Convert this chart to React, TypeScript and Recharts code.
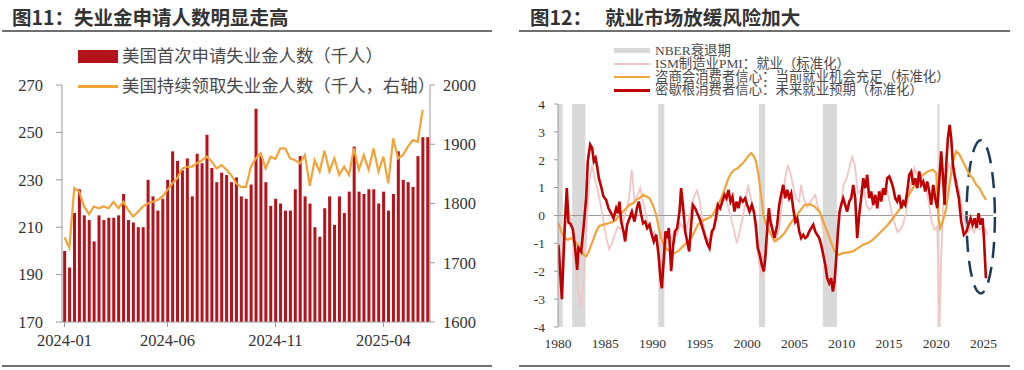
import React from 'react';
import { ComposedChart, Bar, Line, XAxis, YAxis, ReferenceArea, ReferenceLine } from 'recharts';

// ---------- 图11 ----------
const firstWeek = '2024-01-06';
const xTicksLeft = ['2024-01-06', '2024-06-01', '2024-11-02', '2025-04-05'];
const leftTicks = [170, 190, 210, 230, 250, 270];
const rightTicks = [1600, 1700, 1800, 1900, 2000];

// 美国首次申请失业金人数（千人）
const initialClaims = [
  200, 193, 216, 226, 215, 213, 204, 215, 213, 214, 214, 215, 224, 213, 212, 210, 210, 230, 223, 217,
  222, 230, 242, 238, 234, 239, 223, 241, 237, 249, 235, 229, 233, 232, 229, 231, 223, 222, 228, 260,
  240, 229, 219, 222, 220, 217, 217, 226, 240, 223, 220, 210, 206, 218, 223, 211, 223, 216, 225, 244,
  225, 224, 226, 226, 220, 225, 217, 224, 242, 230, 229, 227, 240, 248, 248,
];

// 美国持续领取失业金人数（千人，右轴）
const continuingClaims: (number | null)[] = [
  1743, 1725, 1826, 1820, 1795, 1782, 1795, 1792, 1795, 1792, 1803, 1792, 1803, 1789, 1778, 1786, 1795, 1800, 1803, 1806,
  1812, 1823, 1834, 1843, 1859, 1862, 1862, 1868, 1873, 1879, 1871, 1859, 1865, 1857, 1848, 1834, 1828, 1828, 1862, 1876,
  1885, 1859, 1879, 1875, 1893, 1893, 1876, 1873, 1868, 1882, 1830, 1873, 1854, 1889, 1854, 1876, 1848, 1862, 1848, 1893,
  1857, 1882, 1857, 1893, 1854, 1879, 1834, 1910, 1876, 1882, 1896, 1907, 1904, 1958, null,
];

const weekLabel = (i: number) => {
  const d = new Date(firstWeek + 'T00:00:00Z');
  d.setUTCDate(d.getUTCDate() + i * 7);
  return d.toISOString().slice(0, 10);
};

const claimsData = initialClaims.map((v, i) => ({
  week: weekLabel(i),
  initial: v,
  continuing: continuingClaims[i],
}));

// ---------- 图12 ----------
const yearTicks = [1980, 1985, 1990, 1995, 2000, 2005, 2010, 2015, 2020, 2025];
const stdTicks = [-4, -3, -2, -1, 0, 1, 2, 3, 4];

// NBER衰退期
const recessions: [number, number][] = [
  [1980.0, 1980.5], [1981.5, 1982.9], [1990.6, 1991.25], [2001.25, 2001.9], [2008.0, 2009.5], [2020.12, 2020.35],
];

// ISM制造业PMI：就业（标准化）
const ismEmployment: [number, number][] = [
  [1980.0, -1.0], [1980.3, -2.4], [1980.6, -0.8], [1980.9, 0.3], [1981.2, 0.1], [1981.5, -0.4], [1981.8, -1.5],
  [1982.1, -2.6], [1982.4, -3.3], [1982.7, -2.5], [1983.0, -0.6], [1983.3, 1.2], [1983.6, 1.8], [1983.9, 1.3],
  [1984.2, 0.9], [1984.5, 0.4], [1984.8, -0.2], [1985.1, -0.8], [1985.4, -1.2], [1985.7, -1.0], [1986.0, -0.7],
  [1986.3, -0.4], [1986.6, -0.5], [1986.9, -0.2], [1987.2, 0.2], [1987.5, 0.6], [1987.8, 1.64], [1988.1, 0.5],
  [1988.4, 0.7], [1988.7, 1.0], [1989.0, 0.5], [1989.3, 0.0], [1989.6, -0.4], [1989.9, -0.7], [1990.2, -0.6],
  [1990.5, -0.9], [1990.8, -1.6], [1991.1, -2.0], [1991.4, -1.2], [1991.7, -0.6], [1992.0, -0.9], [1992.3, -0.5],
  [1992.6, -0.7], [1992.9, -0.3], [1993.2, -0.4], [1993.5, -0.6], [1993.8, -0.2], [1994.1, 0.3], [1994.4, 0.7],
  [1994.7, 0.9], [1995.0, 0.5], [1995.3, -0.2], [1995.6, -0.7], [1995.9, -0.9], [1996.2, -0.8], [1996.5, -0.5],
  [1996.8, -0.1], [1997.1, 0.3], [1997.4, 0.5], [1997.7, 0.6], [1998.0, 0.3], [1998.3, -0.1], [1998.6, -0.5],
  [1998.9, -1.0], [1999.2, -0.6], [1999.5, -0.1], [1999.8, 0.4], [2000.1, 1.1], [2000.4, 0.6], [2000.7, 0.1],
  [2001.0, -1.0], [2001.3, -1.8], [2001.6, -2.2], [2001.9, -1.8], [2002.2, -0.6], [2002.5, -0.2], [2002.8, -0.8],
  [2003.1, -0.9], [2003.4, -0.4], [2003.7, 0.5], [2004.0, 1.3], [2004.3, 1.82], [2004.6, 1.5], [2004.9, 1.0],
  [2005.2, 0.6], [2005.5, 0.5], [2005.7, 1.1], [2006.0, 0.6], [2006.3, 0.3], [2006.6, 0.4], [2006.9, 0.6],
  [2007.2, 0.74], [2007.5, 0.3], [2007.8, 0.0], [2008.1, -0.6], [2008.4, -1.2], [2008.7, -2.0], [2009.0, -2.7],
  [2009.3, -2.2], [2009.6, -0.8], [2009.9, 0.3], [2010.2, 1.1], [2010.5, 1.3], [2010.8, 1.7], [2011.1, 2.1],
  [2011.4, 1.8], [2011.7, 0.8], [2012.0, 0.9], [2012.3, 1.1], [2012.6, 0.4], [2012.9, 0.2], [2013.2, 0.3],
  [2013.5, 0.5], [2013.8, 0.7], [2014.1, 0.9], [2014.4, 0.8], [2014.7, 1.0], [2015.0, 0.6], [2015.3, 0.1],
  [2015.6, -0.3], [2015.9, -0.6], [2016.2, -0.5], [2016.5, -0.3], [2016.8, 0.1], [2017.1, 0.8], [2017.4, 1.2],
  [2017.7, 1.7], [2018.0, 1.4], [2018.3, 1.5], [2018.6, 1.2], [2018.9, 1.0], [2019.2, 0.5], [2019.5, -0.2],
  [2019.8, -0.5], [2020.1, -0.4], [2020.25, -2.5], [2020.35, -4.0], [2020.5, -1.8], [2020.7, 0.2], [2021.0, 1.3],
  [2021.3, 1.9], [2021.6, 1.6], [2021.9, 1.4], [2022.2, 1.2], [2022.5, 0.7], [2022.8, 0.1], [2023.1, -0.3],
  [2023.4, -0.6], [2023.7, -0.4], [2024.0, -0.6], [2024.3, -0.3], [2024.6, -0.5], [2024.9, -0.4], [2025.2, -0.5],
  [2025.4, -0.7],
];

// 咨商会消费者信心：当前就业机会充足（标准化）
const confBoardJobs: [number, number][] = [
  [1980.05, -0.27], [1980.33, -0.57], [1980.69, -0.81], [1981.04, -0.87], [1981.39, -0.81], [1981.75, -0.93],
  [1982.1, -1.05], [1982.45, -1.29], [1982.73, -1.41], [1982.98, -1.47], [1983.26, -1.29], [1983.51, -1.05],
  [1983.79, -0.81], [1984.04, -0.57], [1984.32, -0.39], [1984.74, -0.33], [1985.09, -0.3], [1985.45, -0.27],
  [1985.8, -0.22], [1986.15, -0.16], [1986.5, 0.02], [1986.86, 0.14], [1987.21, 0.26], [1987.56, 0.38],
  [1987.92, 0.44], [1988.27, 0.56], [1988.62, 0.62], [1988.97, 0.74], [1989.33, 0.68], [1989.68, 0.62],
  [1990.03, 0.38], [1990.38, 0.02], [1990.66, -0.45], [1990.91, -0.81], [1991.26, -1.11], [1991.62, -1.23],
  [1991.97, -1.29], [1992.32, -1.35], [1992.67, -1.29], [1993.03, -1.17], [1993.38, -1.05], [1993.73, -0.93],
  [1994.08, -0.81], [1994.44, -0.57], [1994.79, -0.33], [1995.14, -0.22], [1995.49, -0.16], [1995.85, -0.1],
  [1996.2, -0.04], [1996.55, 0.14], [1996.9, 0.38], [1997.26, 0.62], [1997.61, 0.92], [1997.96, 1.28],
  [1998.31, 1.52], [1998.67, 1.64], [1999.02, 1.7], [1999.37, 1.82], [1999.72, 1.94], [2000.08, 2.12],
  [2000.43, 2.24], [2000.71, 2.12], [2000.95, 1.94], [2001.2, 1.46], [2001.48, 0.74], [2001.73, 0.02],
  [2002.01, -0.33], [2002.37, -0.57], [2002.72, -0.81], [2002.9, -0.93], [2003.43, -0.81], [2003.96, -0.63],
  [2004.49, -0.33], [2005.01, -0.1], [2005.54, 0.14], [2006.07, 0.38], [2006.6, 0.41], [2007.13, 0.32],
  [2007.66, 0.14], [2008.19, -0.33], [2008.72, -0.81], [2009.24, -1.29], [2009.67, -1.41], [2010.13, -1.35],
  [2010.65, -1.32], [2011.18, -1.29], [2011.71, -1.17], [2012.24, -1.05], [2012.77, -0.99], [2013.3, -0.87],
  [2013.83, -0.69], [2014.36, -0.51], [2014.88, -0.33], [2015.41, -0.1], [2015.94, 0.14], [2016.47, 0.38],
  [2017.0, 0.68], [2017.53, 0.98], [2018.06, 1.28], [2018.59, 1.46], [2019.11, 1.58], [2019.64, 1.64],
  [2020.0, 1.52], [2020.24, -0.1], [2020.42, -0.45], [2020.7, -0.2], [2021.05, 0.26], [2021.4, 1.1],
  [2021.76, 1.94], [2022.11, 2.3], [2022.46, 2.18], [2022.82, 1.94], [2023.17, 1.7], [2023.52, 1.46],
  [2023.87, 1.34], [2024.22, 1.1], [2024.58, 0.98], [2024.93, 0.74], [2025.28, 0.56],
];

// 密歇根消费者信心：未来就业预期（标准化）
const michiganJobs: [number, number][] = [
  [1980.05, -1.05], [1980.41, -3.0], [1980.69, -0.57], [1980.93, 0.98], [1981.11, -0.25], [1981.32, -0.3],
  [1981.57, -0.5], [1981.82, -1.2], [1982.03, -1.95], [1982.17, -1.17], [1982.45, -1.3], [1982.73, -0.33],
  [1982.98, 0.62], [1983.15, 1.94], [1983.4, 2.54], [1983.61, 2.42], [1983.79, 1.94], [1983.97, 2.06],
  [1984.14, 1.76], [1984.32, 1.34], [1984.56, 1.04], [1984.81, 0.68], [1985.09, 0.56], [1985.34, 0.26],
  [1985.62, 0.08], [1985.87, -0.1], [1986.15, 0.26], [1986.33, 0.08], [1986.5, 0.5], [1986.68, -0.22],
  [1986.93, -0.57], [1987.1, -0.93], [1987.31, -0.33], [1987.56, -0.1], [1987.81, 0.14], [1988.09, -0.22],
  [1988.34, 0.26], [1988.55, 0.5], [1988.8, 0.02], [1989.0, -0.28], [1989.22, -0.22], [1989.43, -0.45],
  [1989.68, -0.33], [1989.92, -0.69], [1990.13, -0.93], [1990.38, -0.69], [1990.63, -1.41], [1990.84, -2.25],
  [1990.98, -2.61], [1991.19, -1.53], [1991.37, -0.57], [1991.55, -0.81], [1991.72, -0.45], [1991.97, -2.0],
  [1992.18, -1.05], [1992.39, -0.57], [1992.6, -0.45], [1992.85, 0.14], [1993.02, 0.98], [1993.24, 0.26],
  [1993.45, -0.57], [1993.66, -0.93], [1993.87, -1.29], [1994.08, -0.33], [1994.26, 0.38], [1994.51, 0.26],
  [1994.72, 0.08], [1994.96, -0.1], [1995.14, -0.28], [1995.39, -0.57], [1995.6, -0.81], [1995.84, -1.05],
  [1996.02, -1.17], [1996.27, -0.57], [1996.48, -0.45], [1996.69, -0.1], [1996.9, 0.38], [1997.15, 0.26],
  [1997.36, 0.5], [1997.61, 0.74], [1997.82, 0.62], [1998.03, 0.92], [1998.24, 0.5], [1998.45, 0.68],
  [1998.66, 0.14], [1998.88, 0.5], [1999.09, 0.26], [1999.3, 0.62], [1999.55, 0.5], [1999.79, 0.62],
  [2000.0, 0.38], [2000.25, 0.14], [2000.5, 0.38], [2000.71, 0.14], [2000.92, -0.33], [2001.13, -1.17],
  [2001.34, -1.41], [2001.55, -1.77], [2001.77, -2.0], [2001.94, -1.41], [2002.12, -0.45], [2002.3, 0.26],
  [2002.47, -0.22], [2002.72, -0.57], [2002.9, -0.8], [2003.18, -0.33], [2003.39, 0.38], [2003.6, 0.74],
  [2003.82, 1.1], [2004.03, 0.62], [2004.24, 0.92], [2004.45, 0.62], [2004.66, 0.8], [2004.87, 0.26],
  [2005.09, -0.22], [2005.3, -0.1], [2005.51, -0.57], [2005.72, -0.81], [2005.93, -0.69], [2006.14, -0.81],
  [2006.35, -0.75], [2006.57, -0.57], [2006.78, -0.45], [2006.99, -0.33], [2007.2, -0.57], [2007.41, -0.69],
  [2007.62, -0.81], [2007.83, -1.05], [2008.05, -1.41], [2008.26, -1.77], [2008.47, -2.25], [2008.68, -2.43],
  [2008.89, -2.25], [2009.07, -2.73], [2009.24, -2.37], [2009.42, -1.53], [2009.6, -0.57], [2009.77, 0.14],
  [2009.95, 0.38], [2010.16, 0.62], [2010.37, 0.38], [2010.58, 0.14], [2010.8, 0.5], [2011.01, 0.62],
  [2011.22, 1.1], [2011.43, 0.62], [2011.64, -0.81], [2011.85, 0.02], [2012.06, 0.62], [2012.28, 1.34],
  [2012.49, 0.98], [2012.7, 1.46], [2012.91, 0.62], [2013.12, 0.86], [2013.33, 0.38], [2013.55, 0.74],
  [2013.76, 0.26], [2013.97, 0.86], [2014.18, 0.5], [2014.39, 0.98], [2014.6, 0.74], [2014.81, 1.34],
  [2015.03, 1.4], [2015.24, 1.22], [2015.45, 0.98], [2015.66, 0.62], [2015.87, 0.5], [2016.08, 0.74],
  [2016.29, 0.26], [2016.51, 0.5], [2016.72, 0.38], [2016.93, 0.86], [2017.14, 1.46], [2017.35, 1.58],
  [2017.56, 1.1], [2017.78, 1.34], [2017.99, 0.98], [2018.2, 1.58], [2018.41, 1.1], [2018.62, 1.22],
  [2018.83, 0.86], [2019.04, 1.22], [2019.26, 0.86], [2019.47, 0.38], [2019.68, 1.1], [2019.89, 0.62],
  [2020.1, 0.26], [2020.31, 1.2], [2020.52, 2.3], [2020.7, 1.46], [2020.88, 0.38], [2021.05, 1.82],
  [2021.23, 2.78], [2021.41, 3.25], [2021.58, 2.78], [2021.76, 1.82], [2021.93, 1.46], [2022.11, 1.1],
  [2022.39, 0.62], [2022.64, -0.22], [2022.92, -0.69], [2023.2, -0.57], [2023.41, -0.33], [2023.63, -0.1],
  [2023.84, -0.33], [2024.05, -0.1], [2024.26, -0.45], [2024.47, 0.08], [2024.68, -0.33], [2024.9, -0.1],
  [2025.04, -0.81], [2025.25, -2.25],
];

// 虚线椭圆标注范围（年份，标准化值）
const highlightYears: [number, number] = [2023.2, 2026.2];
const highlightValues: [number, number] = [-2.8, 2.7];

const toPoints = (rows: [number, number][]) => rows.map(([t, v]) => ({ t, v }));

const serif = "Liberation Serif";
const cjk = "'Noto Sans CJK SC', sans-serif";

// 自定义刻度文字，确保使用衬线字体
const makeTick = (size: number, format?: (v: any) => string) => (props: any) => {
  const { x, y, payload, textAnchor, verticalAnchor } = props;
  const label = format ? format(payload.value) : String(payload.value);
  const dy = verticalAnchor === 'start' ? '0.71em' : '0.355em';
  return (
    <text
      x={x}
      y={y}
      dy={dy}
      textAnchor={textAnchor}
      fill="#333"
      style={{ fontFamily: serif, fontSize: size }}
    >
      {label}
    </text>
  );
};

const Ellipse = (props: any) => {
  const { x, y, width, height } = props;
  return (
    <ellipse
      cx={x + width / 2}
      cy={y + height / 2}
      rx={width / 2}
      ry={height / 2}
      fill="none"
      stroke="#1F3A57"
      strokeWidth={2.5}
      strokeDasharray="16 9"
    />
  );
};

const Rule = ({ left, top, width }: { left: number; top: number; width: number }) => (
  <div style={{ position: 'absolute', left, top, width, height: 2, background: '#6f6f6f' }} />
);

const Title = ({ left, text }: { left: number; text: string }) => (
  <div
    style={{
      position: 'absolute', left, top: 6, fontFamily: cjk, fontWeight: 700, fontSize: 19.5,
      lineHeight: '22px', color: '#333', whiteSpace: 'pre',
    }}
  >
    {text}
  </div>
);

const legendText = (top: number, size: number): React.CSSProperties => ({
  position: 'absolute', left: 0, top, fontFamily: `${serif}, 'Noto Sans CJK SC'`, fontSize: size,
  color: '#4a4a4a', whiteSpace: 'nowrap',
});

const ClaimsChart = () => (
  <div style={{ position: 'absolute', left: 0, top: 0, width: 512, height: 370 }}>
    <Title left={12} text="图11：失业金申请人数明显走高" />
    <Rule left={2} top={30} width={490} />
    <div style={{ position: 'absolute', left: 78, top: 50, width: 40, height: 13, background: '#B5121B' }} />
    <div style={{ ...legendText(45, 17.4), left: 122, lineHeight: '22px' }}>美国首次申请失业金人数（千人）</div>
    <div style={{ position: 'absolute', left: 78, top: 85, width: 40, height: 2.5, background: '#F2A33A' }} />
    <div style={{ ...legendText(75, 17.4), left: 122, lineHeight: '22px' }}>美国持续领取失业金人数（千人，右轴）</div>
    <Rule left={2} top={365} width={490} />
    <ComposedChart
      width={512}
      height={370}
      data={claimsData}
      margin={{ top: 85, right: 22, bottom: 18, left: 12 }}
      barCategoryGap="24%"
    >
      <XAxis
        dataKey="week"
        ticks={xTicksLeft}
        interval={0}
        tick={makeTick(16.5, (d: string) => d.slice(0, 7))}
        stroke="#9a9a9a"
        tickSize={5}
        tickMargin={7}
        height={30}
      />
      <YAxis
        yAxisId="left"
        domain={[170, 270]}
        ticks={leftTicks}
        interval={0}
        tick={makeTick(16.5)}
        stroke="#9a9a9a"
        tickSize={6}
        tickMargin={13}
        width={50}
      />
      <YAxis
        yAxisId="right"
        orientation="right"
        domain={[1600, 2000]}
        ticks={rightTicks}
        interval={0}
        tick={makeTick(16.5)}
        stroke="#9a9a9a"
        tickSize={5}
        tickMargin={8}
        width={60}
      />
      <Bar yAxisId="left" dataKey="initial" fill="#B5121B" isAnimationActive={false} />
      <Line
        yAxisId="right"
        dataKey="continuing"
        stroke="#F2A33A"
        strokeWidth={2.2}
        dot={false}
        connectNulls={false}
        isAnimationActive={false}
      />
    </ComposedChart>
  </div>
);

const legend12 = [
  { label: 'NBER衰退期', color: '#D9D9D9', h: 5 },
  { label: 'ISM制造业PMI：就业（标准化）', color: '#F2C6C6', h: 1.6 },
  { label: '咨商会消费者信心：当前就业机会充足（标准化）', color: '#F2A33A', h: 2.6 },
  { label: '密歇根消费者信心：未来就业预期（标准化）', color: '#C00000', h: 2.6 },
];

const LabourChart = () => (
  <div style={{ position: 'absolute', left: 512, top: 0, width: 512, height: 370 }}>
    <Title left={18} text="图12：   就业市场放缓风险加大" />
    <Rule left={7} top={30} width={491} />
    {legend12.map((item, i) => (
      <React.Fragment key={item.label}>
        <div
          style={{
            position: 'absolute', left: 102, top: 50.5 + i * 13.3 - item.h / 2, width: 36, height: item.h,
            background: item.color,
          }}
        />
        <div style={{ ...legendText(42.5 + i * 13.3, 13.4), left: 143, lineHeight: '16px' }}>{item.label}</div>
      </React.Fragment>
    ))}
    <Rule left={7} top={365} width={491} />
    <ComposedChart width={512} height={370} margin={{ top: 104, right: 31, bottom: 13, left: 6 }}>
      <XAxis
        dataKey="t"
        type="number"
        domain={[1980, 2026]}
        ticks={yearTicks}
        interval={0}
        allowDataOverflow
        axisLine={false}
        tickLine={false}
        tick={makeTick(13.5)}
        tickSize={5}
        tickMargin={6}
        height={30}
      />
      <YAxis
        domain={[-4, 4]}
        ticks={stdTicks}
        interval={0}
        allowDataOverflow
        tick={makeTick(13.5)}
        stroke="#9a9a9a"
        tickSize={4}
        tickMargin={9}
        width={40}
      />
      {recessions.map(([a, b]) => (
        <ReferenceArea key={a} x1={a} x2={b} fill="#D9D9D9" fillOpacity={1} stroke="none" ifOverflow="visible" />
      ))}
      <ReferenceLine y={0} stroke="#9a9a9a" strokeWidth={1} />
      <Line
        data={toPoints(ismEmployment)}
        dataKey="v"
        stroke="#F2C6C6"
        strokeWidth={1.8}
        dot={false}
        isAnimationActive={false}
      />
      <Line
        data={toPoints(confBoardJobs)}
        dataKey="v"
        stroke="#F2A33A"
        strokeWidth={2.2}
        dot={false}
        isAnimationActive={false}
      />
      <Line
        data={toPoints(michiganJobs)}
        dataKey="v"
        stroke="#C00000"
        strokeWidth={2.6}
        dot={false}
        isAnimationActive={false}
      />
      <ReferenceArea
        x1={highlightYears[0]}
        x2={highlightYears[1]}
        y1={highlightValues[0]}
        y2={highlightValues[1]}
        ifOverflow="visible"
        shape={Ellipse}
      />
    </ComposedChart>
  </div>
);

export default function App() {
  return (
    <div style={{ position: 'absolute', left: 0, top: 0, width: 1024, height: 370, background: '#fff', overflow: 'hidden' }}>
      <ClaimsChart />
      <LabourChart />
    </div>
  );
}
